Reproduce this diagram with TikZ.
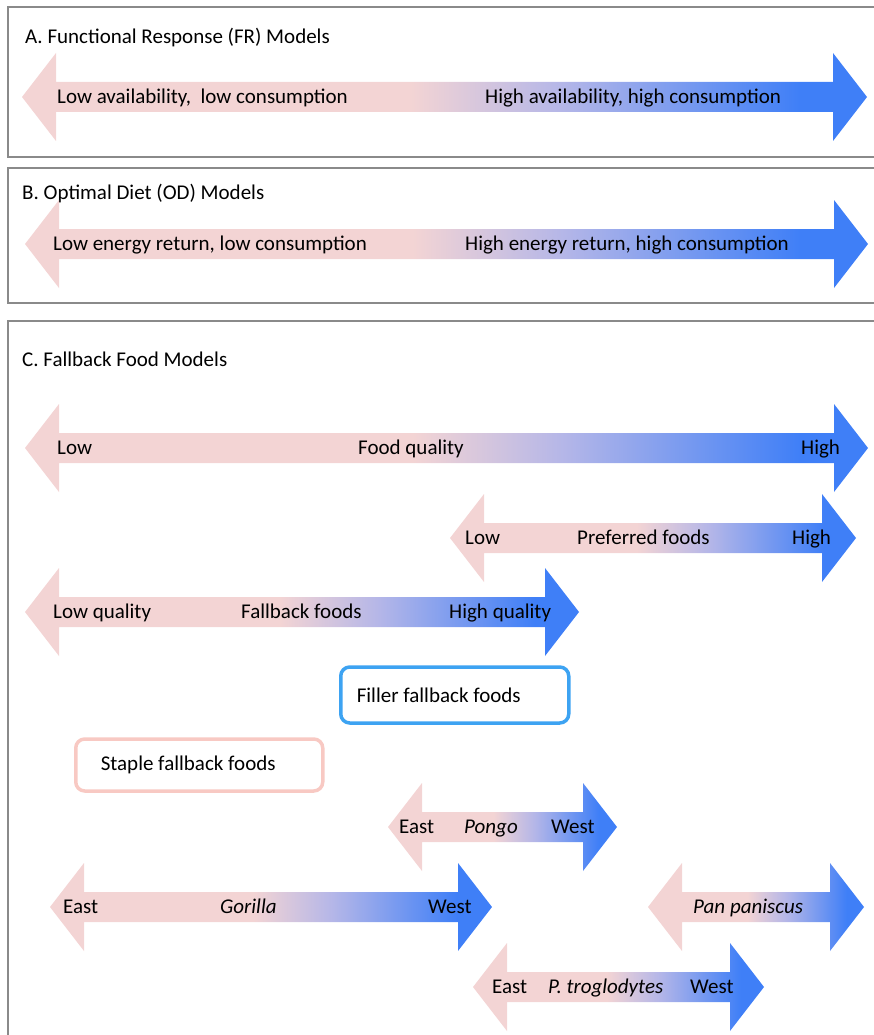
\documentclass[tikz,border=0pt]{standalone}
\usepackage{fontspec}
\setmainfont{Carlito}
\definecolor{apink}{HTML}{F3D4D4}
\definecolor{amid}{HTML}{B4B6E8}
\definecolor{ablue}{HTML}{3F7FF7}
\definecolor{panelgray}{HTML}{8A8A8A}
\definecolor{fillerblue}{HTML}{3DA3F2}
\definecolor{staplepink}{HTML}{F8C9C3}
\pgfdeclarehorizontalshading{pinkblue}{100bp}{color(0bp)=(apink); color(25bp)=(apink); color(48bp)=(apink); color(57bp)=(amid); color(71bp)=(ablue); color(75bp)=(ablue); color(100bp)=(ablue)}
\newcommand\dbarrow[3]{%
  \shade[shading=pinkblue] (#1,#3) -- (#1+34,#3-44) -- (#1+34,#3-15) -- (#2-34,#3-15) -- (#2-34,#3-44) -- (#2,#3) -- (#2-34,#3+44) -- (#2-34,#3+15) -- (#1+34,#3+15) -- (#1+34,#3+44) -- cycle;}
\tikzset{
  lbl/.style={anchor=base west, inner sep=0pt, font=\fontsize{21}{24}\selectfont, yshift=-6.5pt},
  ttl/.style={lbl},
  panel/.style={draw=panelgray, line width=1.5pt},
  fbox/.style={draw=#1, line width=3.5pt, rounded corners=9pt, anchor=west, inner ysep=0pt, font=\fontsize{21}{24}\selectfont}
}
\begin{document}
\begin{tikzpicture}[x=1pt,y=-1pt]
\useasboundingbox (0,0) rectangle (874,1035);
\clip (0,0) rectangle (874,1035);
% panels
\draw[panel] (8,7) rectangle (890,157);
\draw[panel] (8,168) rectangle (890,303);
\draw[panel] (8,321) rectangle (890,1060);
% titles
\node[ttl] (tA) at (25,37) {A. Functional Response (FR) Models};
\node[ttl] (tB) at (22,193) {B. Optimal Diet (OD) Models};
\node[ttl] (tC) at (22,360) {C. Fallback Food Models};
% A
\dbarrow{22}{867}{97}
\node[lbl] (a1) at (57,97) {Low availability,\ \ low consumption};
\node[lbl] (a2) at (485,97) {High availability, high consumption};
% B
\dbarrow{25}{868}{244}
\node[lbl] (b1) at (53,244) {Low energy return, low consumption};
\node[lbl] (b2) at (465,244) {High energy return, high consumption};
% C1
\dbarrow{25}{868}{448}
\node[lbl] (c1l) at (57,448) {Low};
\node[lbl] (c1m) at (358,448) {Food quality};
\node[lbl] (c1h) at (801,448) {High};
% C2
\dbarrow{450}{856}{538}
\node[lbl] (c2l) at (465,538) {Low};
\node[lbl] (c2m) at (577,538) {Preferred foods};
\node[lbl] (c2h) at (792,538) {High};
% C3
\dbarrow{25}{579}{612}
\node[lbl] (c3l) at (53,612) {Low quality};
\node[lbl] (c3m) at (241,612) {Fallback foods};
\node[lbl] (c3h) at (449,612) {High quality};
% boxes
\node[fbox=fillerblue, minimum height=56pt, inner xsep=16pt] (filler) at (339,695) {\makebox[196pt][l]{Filler fallback foods}};
\node[fbox=staplepink, minimum height=52pt, inner xsep=25pt] (staple) at (74,765) {\makebox[197pt][l]{Staple fallback foods}};
% Pongo
\dbarrow{388}{617}{827}
\node[lbl] (p1) at (399,827) {East};
\node[lbl] (p2) at (464,827) {\itshape Pongo};
\node[lbl] (p3) at (551,827) {West};
% Gorilla
\dbarrow{50}{492}{907}
\node[lbl] (g1) at (63,907) {East};
\node[lbl] (g2) at (220,907) {\itshape Gorilla};
\node[lbl] (g3) at (428,907) {West};
% Pan paniscus
\dbarrow{648}{864}{907}
\node[lbl] (pp) at (693,907) {\itshape Pan paniscus};
% P. troglodytes
\dbarrow{473}{764}{987}
\node[lbl] (t1) at (492,987) {East};
\node[lbl] (t2) at (548,987) {\itshape P. troglodytes};
\node[lbl] (t3) at (690,987) {West};
\end{tikzpicture}
\end{document}
